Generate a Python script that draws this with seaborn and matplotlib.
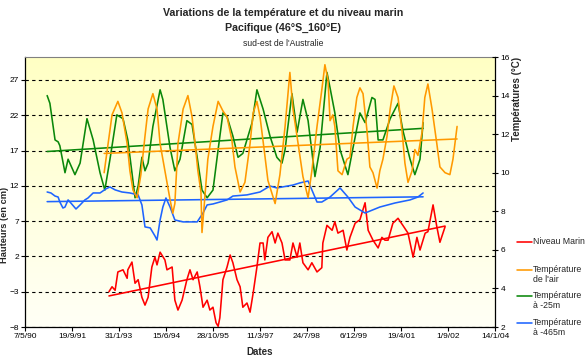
import numpy as np
import pandas as pd
import seaborn as sns
import matplotlib.pyplot as plt
from matplotlib.lines import Line2D
from matplotlib.colors import LinearSegmentedColormap

# axe des dates : jours depuis le 7/5/90, une graduation tous les 500 jours
debut = 1990.345
date_labels = ['7/5/90', '19/9/91', '31/1/93', '15/6/94', '28/10/95', '11/3/97',
               '24/7/98', '6/12/99', '19/4/01', '1/9/02', '14/1/04']

# Niveau marin (cm, axe de gauche)
niveau_annee = [1992.79, 1992.88, 1992.97, 1993.05, 1993.20, 1993.32, 1993.34, 1993.46, 1993.55, 1993.64,
                1993.75, 1993.84, 1993.93, 1994.04, 1994.13, 1994.19, 1994.28, 1994.42, 1994.48, 1994.63,
                1994.71, 1994.80, 1994.92, 1995.06, 1995.15, 1995.24, 1995.36, 1995.44, 1995.53, 1995.65,
                1995.73, 1995.82, 1995.91, 1995.97, 1996.02, 1996.11, 1996.23, 1996.32, 1996.40, 1996.52,
                1996.61, 1996.69, 1996.81, 1996.90, 1996.99, 1997.10, 1997.19, 1997.28, 1997.33, 1997.42,
                1997.54, 1997.63, 1997.71, 1997.83, 1997.92, 1998.06, 1998.15, 1998.27, 1998.35, 1998.44,
                1998.59, 1998.70, 1998.85, 1998.99, 1999.02, 1999.14, 1999.29, 1999.37, 1999.46, 1999.61,
                1999.72, 1999.81, 1999.96, 2000.10, 2000.25, 2000.34, 2000.48, 2000.63, 2000.74, 2000.83,
                2000.92, 2001.06, 2001.21, 2001.35, 2001.50, 2001.65, 2001.76, 2001.85, 2002.00, 2002.08,
                2002.23, 2002.34, 2002.43, 2002.58]
niveau_cm = [-3.0, -2.3, -2.8, -0.2, 0.1, -1.1, 0.1, 1.2, -1.8, -1.3,
             -3.8, -4.9, -3.8, 0.5, 1.9, 0.8, 2.6, 1.5, 0.1, 0.5,
             -4.2, -5.6, -4.2, -1.3, 0.1, -1.3, -0.2, -2.3, -5.2, -4.2,
             -5.6, -5.2, -7.4, -7.9, -6.7, -1.3, 0.5, 2.2, 1.1, -1.3,
             -2.3, -5.2, -4.6, -5.9, -3.2, 0.5, 3.9, 3.9, 1.5, 4.7,
             5.5, 3.9, 5.3, 3.9, 1.5, 1.5, 3.9, 1.9, 3.9, 1.1,
             0.1, 1.1, -0.2, 0.4, 3.9, 6.4, 5.7, 6.9, 5.3, 5.7,
             2.9, 4.7, 6.7, 7.2, 9.6, 5.7, 4.3, 3.2, 4.7, 4.3,
             4.3, 6.7, 7.4, 6.4, 5.3, 1.9, 4.7, 2.9, 5.3, 5.5,
             9.3, 6.2, 4.0, 6.2]

# Température de l'air (°C, axe de droite)
air_annee = [1992.65, 1992.88, 1993.05, 1993.17, 1993.32, 1993.40, 1993.49, 1993.61, 1993.72, 1993.84,
             1993.93, 1994.07, 1994.19, 1994.28, 1994.42, 1994.57, 1994.65, 1994.71, 1994.80, 1994.95,
             1995.09, 1995.21, 1995.30, 1995.38, 1995.47, 1995.50, 1995.56, 1995.67, 1995.82, 1995.97,
             1996.11, 1996.23, 1996.37, 1996.46, 1996.61, 1996.75, 1996.90, 1996.99, 1997.10, 1997.19,
             1997.31, 1997.42, 1997.63, 1997.77, 1997.92, 1998.06, 1998.15, 1998.30, 1998.44, 1998.59,
             1998.70, 1998.85, 1998.99, 1999.08, 1999.17, 1999.23, 1999.31, 1999.37, 1999.46, 1999.58,
             1999.72, 1999.81, 1999.90, 2000.01, 2000.10, 2000.19, 2000.31, 2000.39, 2000.48, 2000.60,
             2000.68, 2000.77, 2000.89, 2000.98, 2001.09, 2001.21, 2001.33, 2001.41, 2001.50, 2001.62,
             2001.70, 2001.79, 2001.91, 2001.99, 2002.08, 2002.20, 2002.34, 2002.43, 2002.58, 2002.72,
             2002.81, 2002.93]
air_temp = [10.0, 13.0, 13.7, 13.1, 11.5, 10.1, 9.1, 8.7, 9.9, 11.9,
            13.3, 14.1, 13.3, 11.5, 10.1, 8.6, 7.9, 8.4, 11.5, 13.3,
            14.0, 12.9, 11.5, 10.1, 9.0, 6.9, 8.2, 10.7, 12.4, 13.7,
            13.2, 12.9, 11.7, 10.3, 9.0, 9.5, 11.5, 13.1, 13.7, 12.9,
            11.2, 9.6, 8.4, 9.9, 12.4, 15.2, 13.3, 11.5, 9.8, 8.7,
            10.1, 12.4, 14.3, 15.6, 14.8, 12.7, 13.0, 12.4, 10.1, 9.9,
            10.7, 10.8, 12.4, 13.9, 14.4, 14.1, 12.1, 10.3, 10.0, 9.2,
            10.1, 10.7, 11.9, 13.3, 14.5, 13.9, 12.1, 10.5, 9.5, 10.1,
            11.2, 10.9, 12.1, 13.9, 14.6, 13.3, 11.5, 10.3, 10.0, 9.9,
            10.7, 12.4]

# Température à -25m
t25_annee = [1990.99, 1991.07, 1991.22, 1991.31, 1991.36, 1991.51, 1991.60, 1991.80, 1991.95, 1992.15,
             1992.33, 1992.53, 1992.67, 1992.82, 1993.02, 1993.20, 1993.34, 1993.46, 1993.55, 1993.64,
             1993.75, 1993.84, 1993.93, 1994.07, 1994.28, 1994.36, 1994.57, 1994.71, 1994.86, 1995.06,
             1995.21, 1995.36, 1995.50, 1995.65, 1995.82, 1995.97, 1996.11, 1996.23, 1996.40, 1996.55,
             1996.69, 1996.96, 1997.10, 1997.28, 1997.48, 1997.68, 1997.83, 1997.92, 1998.12, 1998.27,
             1998.44, 1998.59, 1998.79, 1998.94, 1999.14, 1999.23, 1999.37, 1999.52, 1999.75, 1999.90,
             2000.10, 2000.25, 2000.45, 2000.54, 2000.63, 2000.77, 2000.98, 2001.21, 2001.35, 2001.56,
             2001.70, 2001.85, 2001.94]
t25_temp = [14.0, 13.6, 11.7, 11.6, 11.4, 10.0, 10.7, 9.9, 10.5, 12.8,
            11.7, 10.0, 9.1, 10.7, 13.0, 12.8, 11.7, 10.0, 8.7, 9.3,
            10.8, 10.1, 10.5, 12.4, 14.3, 13.8, 11.3, 10.1, 10.7, 12.7,
            12.5, 10.8, 9.1, 8.7, 9.1, 11.2, 13.1, 12.9, 11.9, 10.8,
            11.0, 12.6, 14.3, 13.3, 11.9, 10.8, 10.5, 11.2, 14.1, 12.1,
            13.8, 12.7, 9.8, 11.3, 15.2, 14.4, 13.1, 11.2, 9.9, 11.3,
            13.1, 12.6, 13.9, 13.8, 11.7, 11.7, 12.8, 13.6, 12.2, 10.7,
            9.9, 10.7, 12.6]

# Température à -465m
t465_annee = [1990.99, 1991.10, 1991.22, 1991.31, 1991.36, 1991.45, 1991.51, 1991.60, 1991.68, 1991.83,
              1991.95, 1992.09, 1992.18, 1992.33, 1992.53, 1992.70, 1992.82, 1992.97, 1993.17, 1993.40,
              1993.64, 1993.75, 1993.84, 1993.99, 1994.13, 1994.19, 1994.28, 1994.36, 1994.45, 1994.57,
              1994.71, 1994.95, 1995.36, 1995.53, 1995.65, 1995.82, 1996.02, 1996.23, 1996.40, 1996.81,
              1997.19, 1997.48, 1997.68, 1998.15, 1998.35, 1998.59, 1998.70, 1998.85, 1998.99, 1999.23,
              1999.52, 1999.75, 1999.96, 2000.10, 2000.25, 2000.68, 2001.12, 2001.56, 2001.79, 2001.94]
t465_temp = [9.00, 8.95, 8.79, 8.74, 8.48, 8.17, 8.22, 8.59, 8.43, 8.12,
             8.33, 8.59, 8.69, 8.95, 8.95, 9.16, 9.26, 9.11, 9.00, 8.95,
             8.85, 8.33, 7.19, 7.14, 6.72, 6.51, 7.55, 8.22, 8.69, 8.22,
             7.55, 7.45, 7.45, 7.91, 8.33, 8.38, 8.48, 8.59, 8.79, 8.85,
             9.00, 9.31, 9.21, 9.36, 9.47, 9.57, 9.11, 8.48, 8.48, 8.74,
             9.21, 8.74, 8.22, 8.07, 7.91, 8.22, 8.43, 8.59, 8.74, 8.95]

# courbes de tendance (extrémités)
tend_niveau_annee = [1992.79, 2002.58]
tend_niveau = [-3.6, 6.3]
tend_air_annee = [1992.65, 2002.93]
tend_air = [11.0, 11.75]
tend_t25_annee = [1990.99, 2001.94]
tend_t25 = [11.1, 12.3]
tend_t465_annee = [1990.99, 2001.94]
tend_t465 = [8.5, 8.75]

noms = ['Niveau Marin', 'Température\nde l\'air', 'Température\nà -25m', 'Température\nà -465m']
couleurs = ['#FF0000', '#FF9900', '#0A870A', '#1E64FF']


def jours(annees):
    return (np.asarray(annees) - debut) * 365.25


sns.set_style('white')
plt.rcParams['font.family'] = ['Liberation Sans', 'DejaVu Sans']

W, H = 586, 362
fig = plt.figure(figsize=(W / 100, H / 100), dpi=100)
pos = [25 / W, 1 - 327 / H, 470 / W, 270 / H]

# fond dégradé jaune pâle
bg = fig.add_axes(pos, zorder=0)
degrade = LinearSegmentedColormap.from_list('fond', ['#FFFFC4', '#FFFFF6'])
bg.imshow(np.linspace(0, 1, 256).reshape(-1, 1), cmap=degrade, aspect='auto', extent=[0, 1, 0, 1])
bg.axis('off')

ax = fig.add_axes(pos, zorder=1)
ax.patch.set_alpha(0)
ax2 = ax.twinx()

lw = 1.15
sns.lineplot(x=jours(niveau_annee), y=niveau_cm, ax=ax, color=couleurs[0], lw=lw,
             sort=False, estimator=None)
sns.lineplot(x=jours(tend_niveau_annee), y=tend_niveau, ax=ax, color=couleurs[0], lw=lw,
             sort=False, estimator=None)

series = [(t25_annee, t25_temp, tend_t25_annee, tend_t25, couleurs[2]),
          (t465_annee, t465_temp, tend_t465_annee, tend_t465, couleurs[3]),
          (air_annee, air_temp, tend_air_annee, tend_air, couleurs[1])]
for xa, ya, xt, yt, c in series:
    sns.lineplot(x=jours(xa), y=ya, ax=ax2, color=c, lw=lw, sort=False, estimator=None)
    sns.lineplot(x=jours(xt), y=yt, ax=ax2, color=c, lw=lw, sort=False, estimator=None)

ax.set_xlim(0, 5000)
ax.set_ylim(-8, 30.25)
ax2.set_ylim(2, 16)
ax.set_xticks(range(0, 5001, 500))
ax.set_xticklabels(date_labels)
ax.set_yticks(range(-8, 28, 5))
ax2.set_yticks(range(2, 17, 2))
for a in (ax, ax2):
    a.set_xlabel('')
    a.set_ylabel('')

ax.grid(axis='y', color='black', linestyle=(0, (3, 3)), linewidth=0.8)
ax.set_axisbelow(True)

ax.tick_params(axis='both', labelsize=6, length=3, width=0.8, direction='out', pad=1.5,
               colors='black', left=True, bottom=True)
ax2.tick_params(axis='y', labelsize=6, length=5, width=0.8, direction='inout', pad=1.5,
                colors='black', right=True)

for s in ('left', 'bottom'):
    ax.spines[s].set_color('black')
    ax.spines[s].set_linewidth(0.9)
ax.spines['top'].set_color('#808080')
ax.spines['right'].set_visible(False)
for s in ('left', 'bottom', 'top'):
    ax2.spines[s].set_visible(False)
ax2.spines['right'].set_color('black')
ax2.spines['right'].set_linewidth(0.9)

# titres
fig.text(283 / W, 1 - 13 / H, 'Variations de la température et du niveau marin',
         ha='center', va='center', fontsize=7.7, weight='bold')
fig.text(283 / W, 1 - 28 / H, 'Pacifique (46°S_160°E)',
         ha='center', va='center', fontsize=7.7, weight='bold')
fig.text(283 / W, 1 - 44 / H, "sud-est de l'Australie",
         ha='center', va='center', fontsize=6.2)

fig.text(5 / W, 1 - 225 / H, 'Hauteurs (en cm)', rotation=90,
         ha='center', va='center', fontsize=6.7, weight='bold')
fig.text(517 / W, 1 - 99 / H, 'Températures (°C)', rotation=90,
         ha='center', va='center', fontsize=7, weight='bold')
fig.text(260 / W, 1 - 352 / H, 'Dates', ha='center', va='center', fontsize=7, weight='bold')

# légende : trait à hauteur de la première ligne du libellé
leg_y = [242, 270, 296, 323]
for c, nom, y in zip(couleurs, noms, leg_y):
    fig.add_artist(Line2D([517 / W, 532 / W], [1 - y / H, 1 - y / H], color=c, lw=lw))
    fig.text(533 / W, 1 - (y - 5) / H, nom, ha='left', va='top', fontsize=6.3,
             linespacing=1.15)

fig.savefig('out.png', dpi=100)
